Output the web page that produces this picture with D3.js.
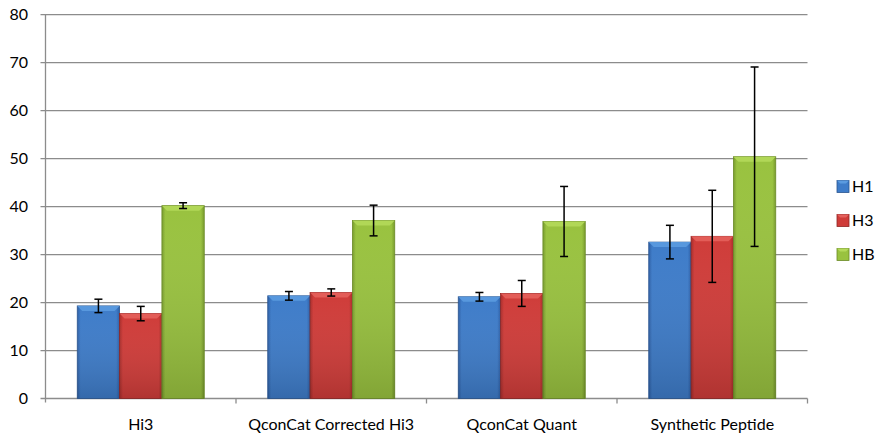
<!DOCTYPE html>
<html><head><meta charset="utf-8">
<script src="https://cdn.jsdelivr.net/npm/d3@7"></script>
<style>body{margin:0;background:#fff}svg{display:block}text{font-family:Lato,"Open Sans",sans-serif;fill:#000}</style>
</head><body><svg id="c" width="880" height="435"></svg>
<script>
const categories = ["Hi3", "QconCat Corrected Hi3", "QconCat Quant", "Synthetic Peptide"];
const seriesNames = ["H1", "H3", "HB"];
const H1 = [19.3, 21.4, 21.2, 32.6];
const H3 = [17.7, 22.1, 21.9, 33.8];
const HB = [40.2, 37.1, 36.9, 50.4];
const H1err = [1.4, 0.9, 0.9, 3.5];
const H3err = [1.5, 0.75, 2.7, 9.6];
const HBerr = [0.6, 3.2, 7.3, 18.7];
const yTicks = [0, 10, 20, 30, 40, 50, 60, 70, 80];

const values = [H1, H3, HB];
const errs = [H1err, H3err, HBerr];
const colors = [
  {top:"#5b9be0", mid:"#3e7cc9", bot:"#2d5fa6", edge:"#2a5590"},
  {top:"#e4605c", mid:"#cf3c39", bot:"#a82d2b", edge:"#8e2524"},
  {top:"#b4d95a", mid:"#99c23f", bot:"#779a2c", edge:"#6a8a26"}
];

const svg = d3.select("#c");
const L = 45.5, R = 807.5, T = 14.7, B = 398.5;
const y = d3.scaleLinear().domain([0, 80]).range([B, T]);
const x0 = d3.scaleBand().domain(categories).range([L, R]).paddingInner(0).paddingOuter(0);
const bw = x0.bandwidth() / 4.5;
const x1 = d3.scaleBand().domain(seriesNames).range([bw * 0.75, bw * 3.75]).padding(0);

const defs = svg.append("defs");
colors.forEach((c, i) => {
  const g = defs.append("linearGradient").attr("id", "g" + i).attr("x1", 0).attr("x2", 1).attr("y1", 0).attr("y2", 0);
  g.append("stop").attr("offset", 0).attr("stop-color", c.bot);
  g.append("stop").attr("offset", 0.08).attr("stop-color", c.mid);
  g.append("stop").attr("offset", 0.5).attr("stop-color", c.mid);
  g.append("stop").attr("offset", 0.92).attr("stop-color", c.mid);
  g.append("stop").attr("offset", 1).attr("stop-color", c.bot);
  const v = defs.append("linearGradient").attr("id", "v" + i).attr("x1", 0).attr("x2", 0).attr("y1", 0).attr("y2", 1);
  v.append("stop").attr("offset", 0).attr("stop-color", "#fff").attr("stop-opacity", 0.0);
  v.append("stop").attr("offset", 1).attr("stop-color", "#000").attr("stop-opacity", 0.15);
});

// gridlines
svg.append("g").selectAll("line").data(yTicks).join("line")
  .attr("x1", L - 5).attr("x2", R).attr("y1", d => y(d)).attr("y2", d => y(d))
  .attr("stroke", "#8c8c8c").attr("stroke-width", 1.3);
// y axis line
svg.append("line").attr("x1", L).attr("x2", L).attr("y1", T).attr("y2", B + 4)
  .attr("stroke", "#8c8c8c").attr("stroke-width", 1.3);
// category ticks
svg.append("g").selectAll("line").data(categories).join("line")
  .attr("x1", d => x0(d) + x0.bandwidth()).attr("x2", d => x0(d) + x0.bandwidth())
  .attr("y1", B).attr("y2", B + 5).attr("stroke", "#8c8c8c").attr("stroke-width", 1.3);

// y labels
svg.append("g").selectAll("text").data(yTicks).join("text")
  .attr("x", 28).attr("y", d => y(d)).attr("dy", "0.36em").attr("text-anchor", "end")
  .attr("font-size", 16).text(d => d);
// x labels
svg.append("g").selectAll("text").data(categories).join("text")
  .attr("x", d => x0(d) + x0.bandwidth() / 2).attr("y", 430).attr("text-anchor", "middle")
  .attr("font-size", 16).text(d => d);

// bars
seriesNames.forEach((s, si) => {
  const g = svg.append("g");
  categories.forEach((c, ci) => {
    const v = values[si][ci];
    const bx = x0(c) + x1(s), w = x1.bandwidth();
    const by = y(v), h = y(0) - y(v);
    g.append("rect").attr("x", bx).attr("y", by).attr("width", w).attr("height", h)
      .attr("fill", `url(#g${si})`).attr("stroke", colors[si].edge).attr("stroke-width", 0.8);
    g.append("rect").attr("x", bx).attr("y", by).attr("width", w).attr("height", h)
      .attr("fill", `url(#v${si})`);
    const bev = 5;
    g.append("polygon")
      .attr("points", [[bx, by], [bx + w, by], [bx + w - bev, by + bev], [bx + bev, by + bev]].map(p => p.join(",")).join(" "))
      .attr("fill", colors[si].top).attr("opacity", 0.9);
  });
});

// error bars
seriesNames.forEach((s, si) => {
  const g = svg.append("g").attr("stroke", "#000").attr("stroke-width", 1.5);
  categories.forEach((c, ci) => {
    const cx = x0(c) + x1(s) + x1.bandwidth() / 2;
    const v = values[si][ci], e = errs[si][ci];
    g.append("line").attr("x1", cx).attr("x2", cx).attr("y1", y(v + e)).attr("y2", y(v - e));
    g.append("line").attr("x1", cx - 4).attr("x2", cx + 4).attr("y1", y(v + e)).attr("y2", y(v + e));
    g.append("line").attr("x1", cx - 4).attr("x2", cx + 4).attr("y1", y(v - e)).attr("y2", y(v - e));
  });
});

// legend
const lg = svg.append("g").selectAll("g").data(seriesNames).join("g")
  .attr("transform", (d, i) => `translate(837,${186.5 + i * 34})`);
lg.append("rect").attr("x", 0).attr("y", -6).attr("width", 12).attr("height", 12)
  .attr("fill", (d, i) => colors[i].mid).attr("stroke", (d, i) => colors[i].edge).attr("stroke-width", 0.8);
lg.append("polygon").attr("points", "0,-6 12,-6 9,-3 3,-3").attr("fill", (d, i) => colors[i].top);
lg.append("text").attr("x", 15).attr("y", 0).attr("dy", "0.36em").attr("font-size", 16).text(d => d);
</script></body></html>
